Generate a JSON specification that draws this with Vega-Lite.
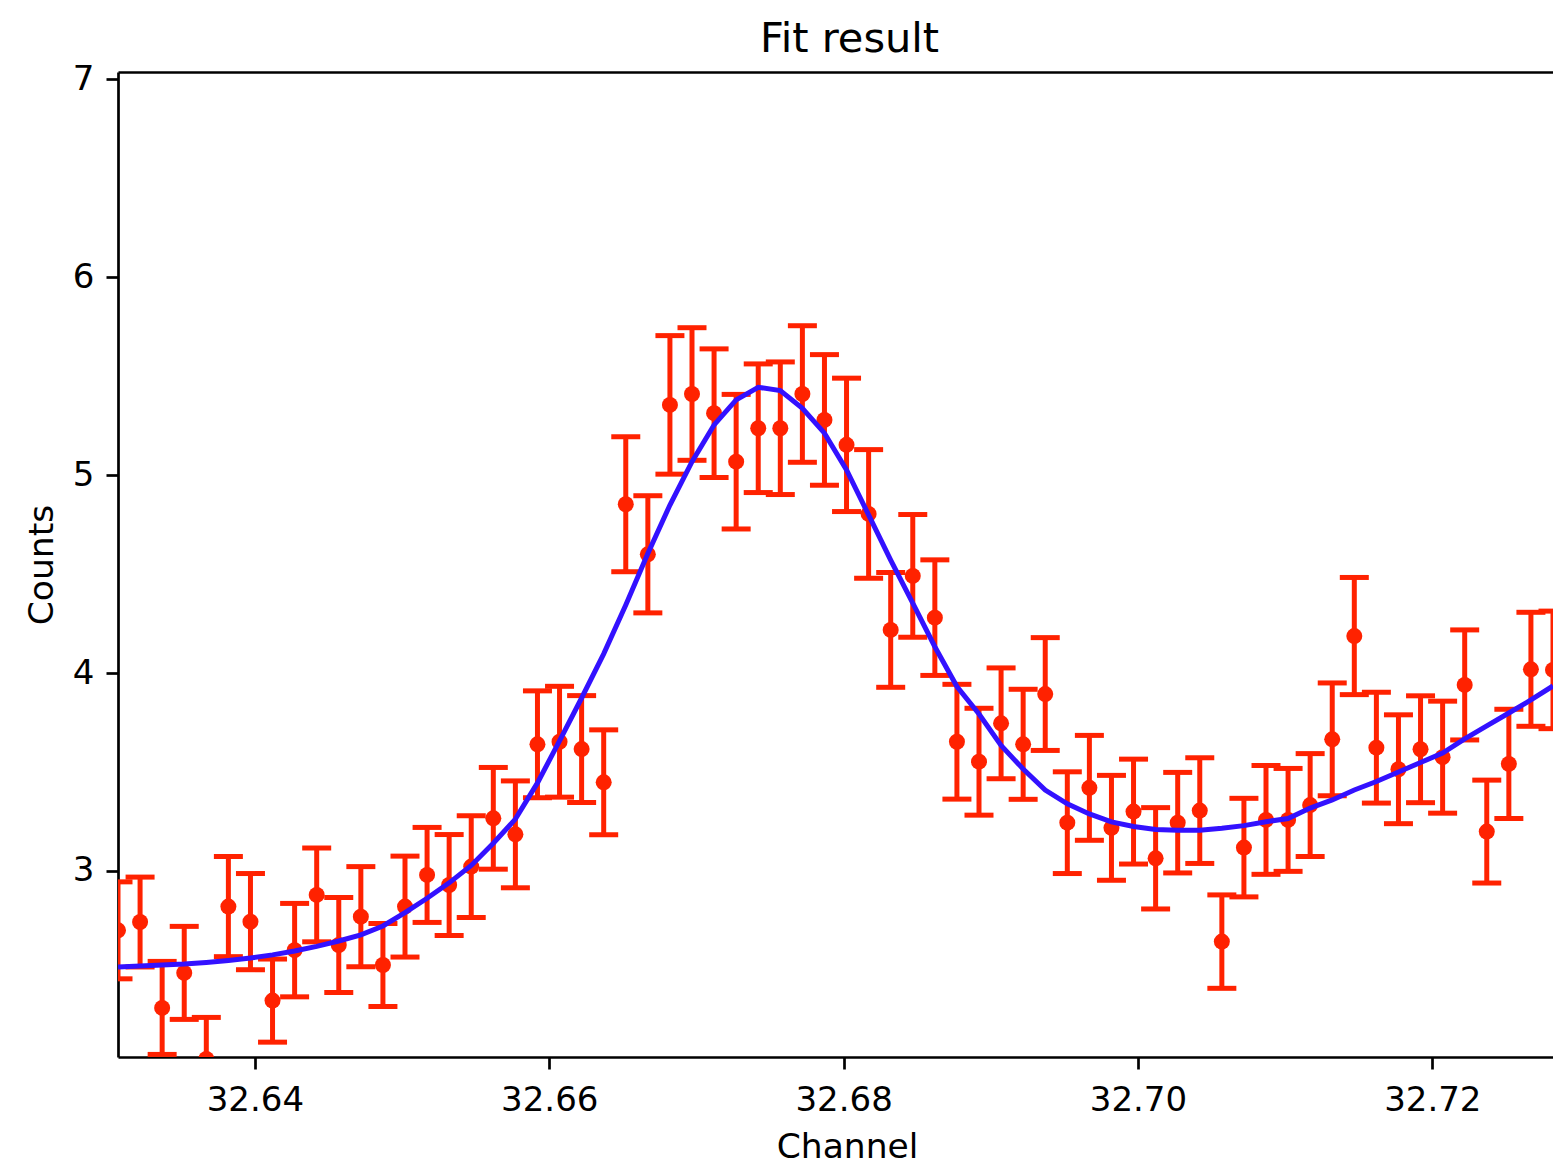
{
  "$schema": "https://vega.github.io/schema/vega-lite/v6.json",
  "width": 1435,
  "height": 985,
  "autosize": "none",
  "padding": {"left": 118, "top": 72, "right": 0, "bottom": 108},
  "background": "white",
  "title": {
    "text": "Fit result",
    "font": "DejaVu Sans",
    "fontSize": 41.5,
    "fontWeight": "normal",
    "color": "black",
    "anchor": "middle",
    "frame": "group",
    "offset": 19,
    "baseline": "alphabetic",
    "dx": 14,
    "dy": 50
  },
  "data": {
    "values": [
      {"x": 32.6307, "y": 2.700, "err": 0.245, "fit": 2.515},
      {"x": 32.6322, "y": 2.742, "err": 0.227, "fit": 2.520},
      {"x": 32.6337, "y": 2.308, "err": 0.235, "fit": 2.525},
      {"x": 32.6352, "y": 2.485, "err": 0.235, "fit": 2.530},
      {"x": 32.6367, "y": 2.050, "err": 0.210, "fit": 2.538},
      {"x": 32.6382, "y": 2.820, "err": 0.253, "fit": 2.548},
      {"x": 32.6397, "y": 2.744, "err": 0.243, "fit": 2.560},
      {"x": 32.6412, "y": 2.345, "err": 0.210, "fit": 2.576},
      {"x": 32.6427, "y": 2.600, "err": 0.236, "fit": 2.596},
      {"x": 32.6442, "y": 2.879, "err": 0.237, "fit": 2.619},
      {"x": 32.6457, "y": 2.626, "err": 0.240, "fit": 2.646},
      {"x": 32.6472, "y": 2.769, "err": 0.253, "fit": 2.677},
      {"x": 32.6487, "y": 2.525, "err": 0.210, "fit": 2.722},
      {"x": 32.6502, "y": 2.820, "err": 0.255, "fit": 2.790},
      {"x": 32.6517, "y": 2.980, "err": 0.240, "fit": 2.862},
      {"x": 32.6532, "y": 2.929, "err": 0.255, "fit": 2.940},
      {"x": 32.6547, "y": 3.022, "err": 0.257, "fit": 3.028},
      {"x": 32.6562, "y": 3.266, "err": 0.257, "fit": 3.140},
      {"x": 32.6577, "y": 3.185, "err": 0.270, "fit": 3.262},
      {"x": 32.6592, "y": 3.640, "err": 0.270, "fit": 3.445},
      {"x": 32.6607, "y": 3.653, "err": 0.280, "fit": 3.657},
      {"x": 32.6622, "y": 3.616, "err": 0.270, "fit": 3.874},
      {"x": 32.6637, "y": 3.448, "err": 0.265, "fit": 4.097},
      {"x": 32.6652, "y": 4.853, "err": 0.341, "fit": 4.344},
      {"x": 32.6667, "y": 4.600, "err": 0.296, "fit": 4.604},
      {"x": 32.6682, "y": 5.355, "err": 0.350, "fit": 4.849},
      {"x": 32.6697, "y": 5.410, "err": 0.335, "fit": 5.068},
      {"x": 32.6712, "y": 5.313, "err": 0.325, "fit": 5.254},
      {"x": 32.6727, "y": 5.068, "err": 0.340, "fit": 5.380},
      {"x": 32.6742, "y": 5.237, "err": 0.325, "fit": 5.444},
      {"x": 32.6757, "y": 5.237, "err": 0.335, "fit": 5.427},
      {"x": 32.6772, "y": 5.410, "err": 0.345, "fit": 5.338},
      {"x": 32.6787, "y": 5.279, "err": 0.330, "fit": 5.212},
      {"x": 32.6802, "y": 5.153, "err": 0.337, "fit": 5.026},
      {"x": 32.6817, "y": 4.804, "err": 0.325, "fit": 4.799},
      {"x": 32.6832, "y": 4.218, "err": 0.290, "fit": 4.571},
      {"x": 32.6847, "y": 4.491, "err": 0.310, "fit": 4.353},
      {"x": 32.6862, "y": 4.280, "err": 0.292, "fit": 4.133},
      {"x": 32.6877, "y": 3.653, "err": 0.290, "fit": 3.932},
      {"x": 32.6892, "y": 3.552, "err": 0.270, "fit": 3.793},
      {"x": 32.6907, "y": 3.746, "err": 0.280, "fit": 3.634},
      {"x": 32.6922, "y": 3.640, "err": 0.278, "fit": 3.515},
      {"x": 32.6937, "y": 3.894, "err": 0.285, "fit": 3.409},
      {"x": 32.6952, "y": 3.244, "err": 0.257, "fit": 3.339},
      {"x": 32.6967, "y": 3.420, "err": 0.265, "fit": 3.288},
      {"x": 32.6982, "y": 3.218, "err": 0.265, "fit": 3.248},
      {"x": 32.6997, "y": 3.300, "err": 0.265, "fit": 3.225},
      {"x": 32.7012, "y": 3.064, "err": 0.256, "fit": 3.210},
      {"x": 32.7027, "y": 3.244, "err": 0.254, "fit": 3.206},
      {"x": 32.7042, "y": 3.305, "err": 0.267, "fit": 3.206},
      {"x": 32.7057, "y": 2.643, "err": 0.236, "fit": 3.216},
      {"x": 32.7072, "y": 3.118, "err": 0.249, "fit": 3.229},
      {"x": 32.7087, "y": 3.258, "err": 0.275, "fit": 3.249},
      {"x": 32.7102, "y": 3.258, "err": 0.260, "fit": 3.265},
      {"x": 32.7117, "y": 3.333, "err": 0.260, "fit": 3.318},
      {"x": 32.7132, "y": 3.665, "err": 0.285, "fit": 3.359},
      {"x": 32.7147, "y": 4.187, "err": 0.296, "fit": 3.409},
      {"x": 32.7162, "y": 3.623, "err": 0.280, "fit": 3.452},
      {"x": 32.7177, "y": 3.514, "err": 0.275, "fit": 3.500},
      {"x": 32.7192, "y": 3.615, "err": 0.270, "fit": 3.548},
      {"x": 32.7207, "y": 3.575, "err": 0.283, "fit": 3.596},
      {"x": 32.7222, "y": 3.940, "err": 0.278, "fit": 3.667},
      {"x": 32.7237, "y": 3.199, "err": 0.260, "fit": 3.733},
      {"x": 32.7252, "y": 3.541, "err": 0.276, "fit": 3.798},
      {"x": 32.7267, "y": 4.019, "err": 0.288, "fit": 3.864},
      {"x": 32.7282, "y": 4.016, "err": 0.297, "fit": 3.935}
    ]
  },
  "layer": [
    {
      "mark": {
        "type": "errorbar",
        "color": "#ff2200",
        "clip": true,
        "ticks": {"size": 29, "thickness": 5, "opacity": 1, "color": "#ff2200"},
        "rule": {"strokeWidth": 5, "opacity": 1, "color": "#ff2200"}
      },
      "encoding": {
        "x": {
          "field": "x",
          "type": "quantitative",
          "scale": {"domain": [32.6307, 32.7282], "nice": false, "zero": false},
          "axis": null
        },
        "y": {
          "field": "y",
          "type": "quantitative",
          "scale": {"domain": [2.06, 7.037], "nice": false, "zero": false},
          "axis": null
        },
        "yError": {"field": "err"}
      }
    },
    {
      "mark": {
        "type": "point",
        "filled": true,
        "opacity": 1,
        "size": 256,
        "color": "#ff2200",
        "clip": true
      },
      "encoding": {
        "x": {
          "field": "x",
          "type": "quantitative",
          "scale": {"domain": [32.6307, 32.7282], "nice": false, "zero": false},
          "axis": {
            "orient": "bottom",
            "values": [32.64, 32.66, 32.68, 32.7, 32.72],
            "format": ".2f",
            "labelBaseline": "alphabetic",
            "labelPadding": 41,
            "labelFlush": false,
            "labelOverlap": false,
            "title": "Channel",
            "titleX": 729,
            "titleY": 100,
            "titleBaseline": "alphabetic",
            "titleAlign": "center"
          }
        },
        "y": {
          "field": "y",
          "type": "quantitative",
          "scale": {"domain": [2.06, 7.037], "nice": false, "zero": false},
          "axis": {
            "orient": "left",
            "values": [3, 4, 5, 6, 7],
            "format": "d",
            "labelPadding": 12,
            "labelBaseline": "middle",
            "title": "Counts",
            "titleAngle": 270,
            "titleX": -66,
            "titleY": 492.5,
            "titleAlign": "center",
            "titleBaseline": "alphabetic"
          }
        }
      }
    },
    {
      "mark": {
        "type": "line",
        "color": "#3311ff",
        "strokeWidth": 5,
        "clip": true
      },
      "encoding": {
        "x": {
          "field": "x",
          "type": "quantitative",
          "scale": {"domain": [32.6307, 32.7282], "nice": false, "zero": false},
          "axis": {
            "orient": "top",
            "labels": false,
            "ticks": false,
            "domain": true,
            "title": null,
            "minExtent": 0,
            "maxExtent": 0
          }
        },
        "y": {
          "field": "fit",
          "type": "quantitative",
          "scale": {"domain": [2.06, 7.037], "nice": false, "zero": false},
          "axis": null
        }
      }
    }
  ],
  "resolve": {"axis": {"x": "independent", "y": "independent"}},
  "config": {
    "view": {"stroke": null},
    "axis": {
      "grid": false,
      "domainColor": "black",
      "domainWidth": 2.7,
      "tickColor": "black",
      "tickWidth": 2.7,
      "tickSize": 12,
      "labelFont": "DejaVu Sans",
      "labelFontSize": 34,
      "labelColor": "black",
      "titleFont": "DejaVu Sans",
      "titleFontSize": 34.5,
      "titleFontWeight": "normal",
      "titleColor": "black"
    }
  }
}
